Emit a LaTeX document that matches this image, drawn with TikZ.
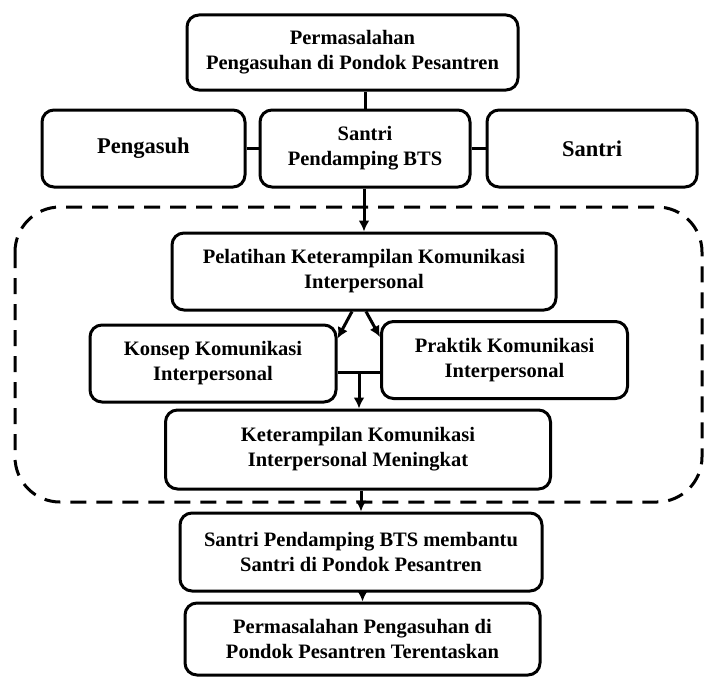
\documentclass[tikz,border=0pt]{standalone}
\usepackage{fontspec}
\setmainfont{Liberation Serif}
\usetikzlibrary{arrows, arrows.meta}

\tikzset{
  kotak/.style={draw, line width=3pt, rounded corners=12pt, align=center, inner sep=0pt,
    font=\fontsize{20.5}{25}\selectfont\bfseries},
  garis/.style={line width=3pt},
  panah/.style={line width=3pt, -{Latex[length=11pt,width=11pt]}}
}

\begin{document}
\begin{tikzpicture}[x=1pt,y=-1pt]
\useasboundingbox (0,0) rectangle (704,677);

%\draw[step=50,gray,very thin] (0,0) grid (704,677); %grid bantu

% kotak paling atas
\node[kotak, minimum width=331, minimum height=75] (masalah) at (352.5,52.5) {Permasalahan\\Pengasuhan di Pondok Pesantren};

% baris kedua
\node[kotak, minimum width=203, minimum height=77, font=\fontsize{22.5}{27}\selectfont\bfseries] (pengasuh) at (143.5,148.5) {Pengasuh};
\node[kotak, minimum width=210, minimum height=77] (pendamping) at (365,148.5) {Santri\\Pendamping BTS};
\node[kotak, minimum width=210, minimum height=77, font=\fontsize{22.5}{27}\selectfont\bfseries] (santri) at (592,148.5) {Santri};

% kotak putus-putus
\draw[line width=3pt, dash pattern=on 16pt off 10pt, rounded corners=45pt] (15,207) rectangle (702,502);

% pelatihan
\node[kotak, minimum width=384, minimum height=77] (pelatihan) at (364,271.5) {Pelatihan Keterampilan Komunikasi\\Interpersonal};
\node[kotak, minimum width=246, minimum height=77] (konsep)    at (213,363.5) {Konsep Komunikasi\\Interpersonal};
\node[kotak, minimum width=246, minimum height=77] (praktik)   at (504.5,360) {Praktik Komunikasi\\Interpersonal};
\node[kotak, minimum width=385, minimum height=79] (meningkat) at (358,449.5) {Keterampilan Komunikasi\\Interpersonal Meningkat};

% hasil
\node[kotak, minimum width=362, minimum height=78] (membantu) at (361,552) {Santri Pendamping BTS membantu\\Santri di Pondok Pesantren};
\node[kotak, minimum width=355, minimum height=72] (tuntas)   at (362.5,639) {Permasalahan Pengasuhan di\\Pondok Pesantren Terentaskan};

% garis penghubung
\draw[garis] (pendamping.north) -- (pendamping.north |- masalah.south);
\draw[garis] (pengasuh.east) -- (pendamping.west);
\draw[garis] (pendamping.east) -- (santri.west);
\draw[panah] (pelatihan.north |- pendamping.south) -- (pelatihan.north);

\draw[panah] ([xshift=-12pt]pelatihan.south) -- ([yshift=25pt]konsep.east);
\draw[panah] ([xshift=2pt]pelatihan.south) -- ([yshift=23pt]praktik.west);

\coordinate (temu) at (359,372);
\draw[garis] (konsep.east |- temu) -- (praktik.west |- temu);
\draw[panah] (temu) -- (temu |- meningkat.north);

\draw[panah] (membantu.north |- meningkat.south) -- (membantu.north);
\draw[panah] (tuntas.north |- membantu.south) -- (tuntas.north);
\end{tikzpicture}
\end{document}
